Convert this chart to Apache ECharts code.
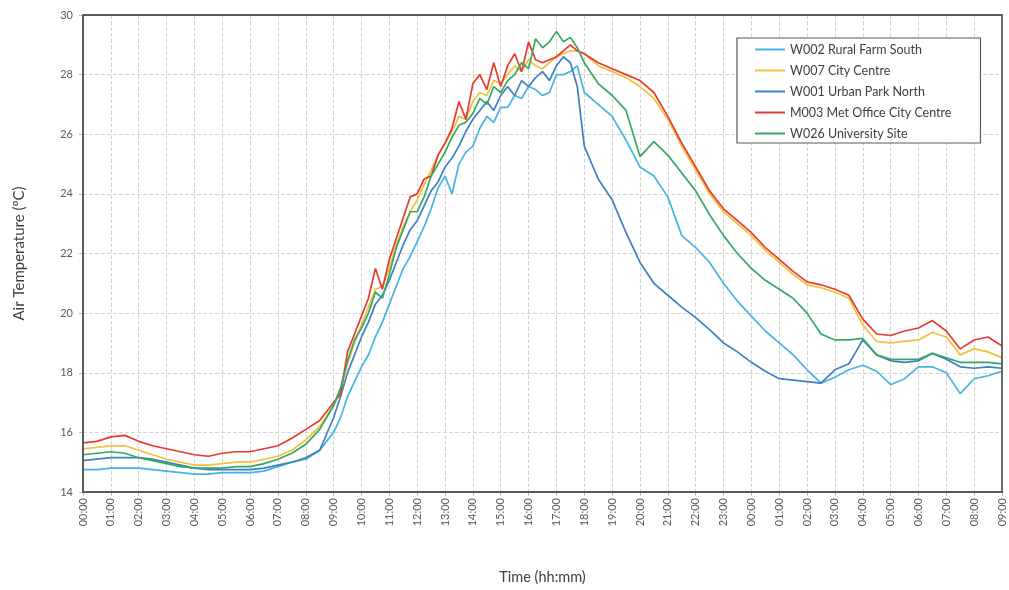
<!DOCTYPE html>
<html>
<head>
<meta charset="utf-8">
<script src="https://cdn.jsdelivr.net/npm/echarts@6/dist/echarts.min.js"></script>
<style>html,body{margin:0;padding:0;background:#fff;}#c{width:1009px;height:590px;}</style>
</head>
<body>
<div id="c"></div>
<script>
// Hours since 00:00 on day 1 (33 = 09:00 next day)
const hours = [0,0.5,1,1.5,2,2.5,3,3.5,4,4.5,5,5.5,6,6.5,7,7.5,8,8.5,9,
  9.25,9.5,9.75,10,10.25,10.5,10.75,11,11.25,11.5,11.75,12,12.25,12.5,12.75,13,
  13.25,13.5,13.75,14,14.25,14.5,14.75,15,15.25,15.5,15.75,16,16.25,16.5,16.75,17,
  17.25,17.5,17.75,18,
  18.5,19,19.5,20,20.5,21,21.5,22,22.5,23,23.5,24,24.5,25,25.5,26,26.5,27,27.5,28,
  28.5,29,29.5,30,30.5,31,31.5,32,32.5,33];

const seriesNames = ['W002 Rural Farm South','W007 City Centre','W001 Urban Park North','M003 Met Office City Centre','W026 University Site'];
const seriesColors = ['#45b4e2','#f2c13c','#3f7fc2','#e8392e','#35a862'];

const w002 = [14.75,14.75,14.8,14.8,14.8,14.75,14.7,14.65,14.6,14.6,14.65,14.65,14.65,14.7,14.85,15.0,15.1,15.4,16.0,
  16.5,17.2,17.7,18.2,18.6,19.2,19.7,20.3,20.9,21.5,21.9,22.4,22.9,23.5,24.2,24.6,
  24.0,25.0,25.4,25.6,26.2,26.6,26.4,26.9,26.9,27.3,27.2,27.6,27.5,27.3,27.4,28.0,
  28.0,28.1,28.3,27.4,
  27.0,26.6,25.8,24.9,24.6,23.9,22.6,22.2,21.7,21.0,20.4,19.9,19.4,19.0,18.6,18.1,17.65,17.85,18.1,18.25,
  18.05,17.6,17.8,18.2,18.2,18.0,17.3,17.8,17.9,18.05];

const w007 = [15.45,15.5,15.55,15.55,15.4,15.25,15.1,15.0,14.9,14.9,14.95,15.0,15.0,15.1,15.2,15.4,15.75,16.2,16.9,
  17.4,18.3,19.0,19.6,20.2,20.8,20.9,21.5,22.3,22.9,23.4,23.8,24.3,24.8,25.3,25.7,
  26.1,26.6,26.5,27.1,27.4,27.3,27.8,27.7,28.0,28.3,28.1,28.5,28.3,28.2,28.4,28.6,
  28.7,28.8,28.8,28.7,
  28.3,28.1,27.9,27.6,27.2,26.5,25.6,24.8,24.0,23.4,23.0,22.6,22.1,21.7,21.3,20.95,20.85,20.7,20.5,19.6,
  19.05,19.0,19.05,19.1,19.35,19.2,18.6,18.8,18.7,18.5];

const w001 = [15.05,15.1,15.15,15.15,15.15,15.1,15.0,14.9,14.8,14.75,14.75,14.75,14.75,14.8,14.9,15.0,15.15,15.4,16.5,
  17.2,18.0,18.6,19.2,19.7,20.3,20.6,21.1,21.7,22.3,22.8,23.1,23.6,24.1,24.4,24.9,
  25.2,25.6,26.1,26.5,26.8,27.1,26.8,27.3,27.6,27.3,27.8,27.6,27.9,28.1,27.8,28.3,
  28.6,28.4,27.6,25.6,
  24.5,23.8,22.7,21.7,21.0,20.6,20.2,19.85,19.45,19.0,18.7,18.35,18.05,17.8,17.75,17.7,17.65,18.1,18.3,19.1,
  18.6,18.4,18.35,18.4,18.65,18.45,18.2,18.15,18.2,18.15];

const m003 = [15.65,15.7,15.85,15.9,15.7,15.55,15.45,15.35,15.25,15.2,15.3,15.35,15.35,15.45,15.55,15.8,16.1,16.4,17.0,
  17.3,18.7,19.3,19.9,20.5,21.5,20.8,21.8,22.5,23.2,23.9,24.0,24.5,24.6,25.3,25.7,
  26.2,27.1,26.5,27.7,28.0,27.5,28.4,27.6,28.3,28.7,28.1,29.1,28.5,28.4,28.5,28.6,
  28.8,29.0,28.8,28.7,
  28.4,28.2,28.0,27.8,27.4,26.6,25.7,24.9,24.1,23.5,23.1,22.7,22.2,21.8,21.4,21.05,20.95,20.8,20.6,19.8,
  19.3,19.25,19.4,19.5,19.75,19.4,18.8,19.1,19.2,18.9];

const w026 = [15.25,15.3,15.35,15.3,15.15,15.05,14.95,14.85,14.8,14.8,14.8,14.85,14.85,14.95,15.1,15.3,15.6,16.1,16.9,
  17.5,18.4,19.1,19.5,20.0,20.7,20.5,21.3,22.2,22.8,23.4,23.4,23.9,24.6,25.0,25.4,
  25.9,26.3,26.4,26.7,27.2,27.0,27.6,27.4,27.8,28.0,28.4,28.2,29.2,28.9,29.1,29.45,
  29.1,29.25,28.9,28.4,
  27.7,27.3,26.8,25.25,25.75,25.3,24.7,24.1,23.3,22.6,22.0,21.5,21.1,20.8,20.5,20.0,19.3,19.1,19.1,19.15,
  18.6,18.45,18.45,18.45,18.65,18.5,18.35,18.35,18.35,18.3];

const yTicks = {min: 14, max: 30, step: 2};
const xTicks = {min: 0, max: 33, step: 1};

const allSeries = [w002, w007, w001, m003, w026];

function pair(arr){ return hours.map((h,i)=>[h, arr[i]]); }
function fmtHour(v){ const h = Math.round(v) % 24; return (h<10?'0':'')+h+':00'; }

const font = 'Lato, "Open Sans", "Liberation Sans", sans-serif';
const chart = echarts.init(document.getElementById('c'), null, {renderer:'canvas'});
chart.setOption({
  animation: false,
  backgroundColor: '#ffffff',
  textStyle: {fontFamily: font},
  grid: {left: 83, right: 7, top: 15, bottom: 95, show: true, borderColor: '#5a5a5a', borderWidth: 1.8, backgroundColor: 'transparent', z: 10},
  legend: {
    orient: 'vertical', left: 737, top: 38,
    data: seriesNames,
    icon: 'rect',
    itemWidth: 30, itemHeight: 2, itemGap: 6,
    padding: [4, 29, 2, 18],
    borderColor: '#5a5a5a', borderWidth: 1.2, backgroundColor: '#ffffff',
    textStyle: {fontFamily: font, fontSize: 12.5, color: '#404040', lineHeight: 15}
  },
  xAxis: {
    type: 'value', min: xTicks.min, max: xTicks.max, interval: xTicks.step,
    name: 'Time (hh:mm)', nameLocation: 'middle', nameGap: 78,
    nameTextStyle: {fontFamily: font, fontSize: 14.5, color: '#404040'},
    axisLine: {show: true, lineStyle: {color: '#5a5a5a', width: 1.8}},
    axisTick: {show: true, length: 4, lineStyle: {color: '#bbbbbb'}},
    axisLabel: {rotate: 90, margin: 6, fontFamily: font, fontSize: 11, color: '#595959', formatter: fmtHour},
    splitLine: {show: true, lineStyle: {color: '#d4d4d4', type: 'dashed', width: 1}}
  },
  yAxis: {
    type: 'value', min: yTicks.min, max: yTicks.max, interval: yTicks.step,
    name: 'Air Temperature (ºC)', nameLocation: 'middle', nameGap: 56, nameRotate: 90,
    nameTextStyle: {fontFamily: font, fontSize: 15, color: '#404040'},
    axisLine: {show: true, lineStyle: {color: '#5a5a5a', width: 1.8}},
    axisTick: {show: true, length: 4, lineStyle: {color: '#bbbbbb'}},
    axisLabel: {margin: 10, fontFamily: font, fontSize: 11, color: '#595959'},
    splitLine: {show: true, lineStyle: {color: '#d4d4d4', type: 'dashed', width: 1}}
  },
  series: allSeries.map((arr, i) => ({
    name: seriesNames[i], type: 'line', data: pair(arr),
    symbol: 'none', showSymbol: false,
    lineStyle: {color: seriesColors[i], width: 1.7},
    itemStyle: {color: seriesColors[i]},
    z: 2 + i
  }))
});
</script>
</body>
</html>
